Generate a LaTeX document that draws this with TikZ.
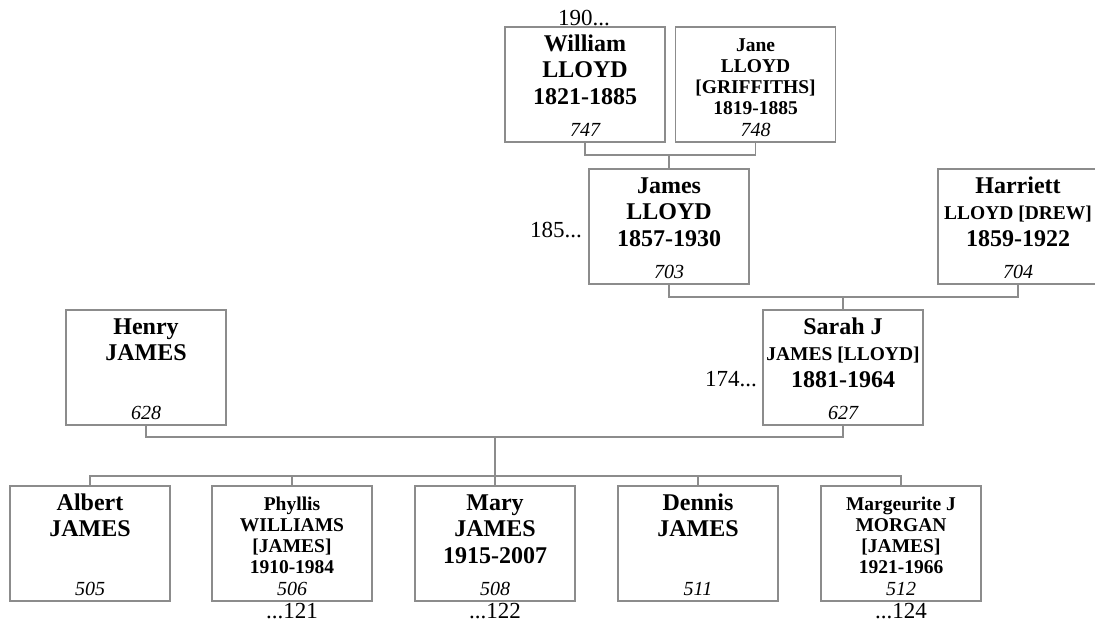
\documentclass[tikz,border=0pt]{standalone}
\usepackage{fontspec}
\setmainfont{Liberation Serif}
\usepackage{tikz}
\usetikzlibrary{positioning,calc}
\definecolor{linegray}{RGB}{140,140,140}
\newcommand{\bigfont}{\fontsize{24}{26.5}\selectfont\bfseries}
\newcommand{\smallfont}{\fontsize{19.5}{21.3}\selectfont\bfseries}
\newcommand{\numfont}{\fontsize{20}{21}\selectfont\mdseries\itshape}
% box text: name lines at the top, reference number at the bottom
\newcommand{\card}[3]{\parbox[c][109pt][s]{158pt}{\centering#1\rule{0pt}{24pt}#2\par\vfill{\numfont #3}\rule[-6pt]{0pt}{6pt}\par}}

\begin{document}
\begin{tikzpicture}[x=1pt, y=-1pt,
    person/.style={draw=linegray, line width=1.2pt, inner sep=0pt, minimum width=160pt, minimum height=109pt},
    link/.style={draw=linegray, line width=1.2pt},
    lbl/.style={inner sep=0pt, font=\fontsize{23}{25}\selectfont}]
    \useasboundingbox (0,0) rectangle (1095,625);

    % Grandparents of Sarah
    \node[person] (william) at (585,84.5) {\card{\bigfont}{William\\LLOYD\\1821-1885}{747}};
    \node[person] (jane) at (755.5,84.5) {\card{\smallfont}{Jane\\LLOYD\\[0pt][GRIFFITHS]\\1819-1885}{748}};
    \node[lbl, anchor=base] (up190) at (584,25) {190...};

    % Parents of Sarah
    \node[person] (james) at (669,226.5) {\card{\bigfont}{James\\LLOYD\\1857-1930}{703}};
    \node[person] (harriett) at (1018,226.5) {\card{\bigfont}{Harriett\\{\smallfont LLOYD [DREW]}\\1859-1922}{704}};
    \node[lbl, anchor=base east] (up185) at (582,237) {185...};

    % Parents
    \node[person] (henry) at (146,367.5) {\card{\bigfont}{Henry\\JAMES}{628}};
    \node[person] (sarah) at (843,367.5) {\card{\bigfont}{Sarah J\\{\smallfont JAMES [LLOYD]}\\1881-1964}{627}};
    \node[lbl, anchor=base east] (up174) at (757,386) {174...};

    % Children
    \node[person] (albert) at (90,543.5) {\card{\bigfont}{Albert\\JAMES}{505}};
    \node[person] (phyllis) at (292,543.5) {\card{\smallfont}{Phyllis\\WILLIAMS\\[0pt][JAMES]\\1910-1984}{506}};
    \node[person] (mary) at (495,543.5) {\card{\bigfont}{Mary\\JAMES\\1915-2007}{508}};
    \node[person] (dennis) at (698,543.5) {\card{\bigfont}{Dennis\\JAMES}{511}};
    \node[person] (marg) at (901,543.5) {\card{\smallfont}{Margeurite J\\MORGAN\\[0pt][JAMES]\\1921-1966}{512}};
    \node[lbl, anchor=base] (dn121) at (292,618) {...121};
    \node[lbl, anchor=base] (dn122) at (495,618) {...122};
    \node[lbl, anchor=base] (dn124) at (901,618) {...124};

    % Marriage and descent lines
    \coordinate (wj) at (james.north |- 0,155);
    \coordinate (jh) at (sarah.north |- 0,297);
    \coordinate (hs) at (mary.north |- 0,437);
    \coordinate (kids) at (mary.north |- 0,476);
    \draw[link] (william.south) |- (wj) -| (jane.south);
    \draw[link] (wj) -- (james.north);
    \draw[link] (james.south) |- (jh) -| (harriett.south);
    \draw[link] (jh) -- (sarah.north);
    \draw[link] (henry.south) |- (hs) -| (sarah.south);
    \draw[link] (hs) -- (kids);
    \draw[link] (albert.north) |- (kids) -| (marg.north);
    \foreach \c in {phyllis,mary,dennis}
        \draw[link] (\c.north) -- (\c.north |- kids);
\end{tikzpicture}
\end{document}
